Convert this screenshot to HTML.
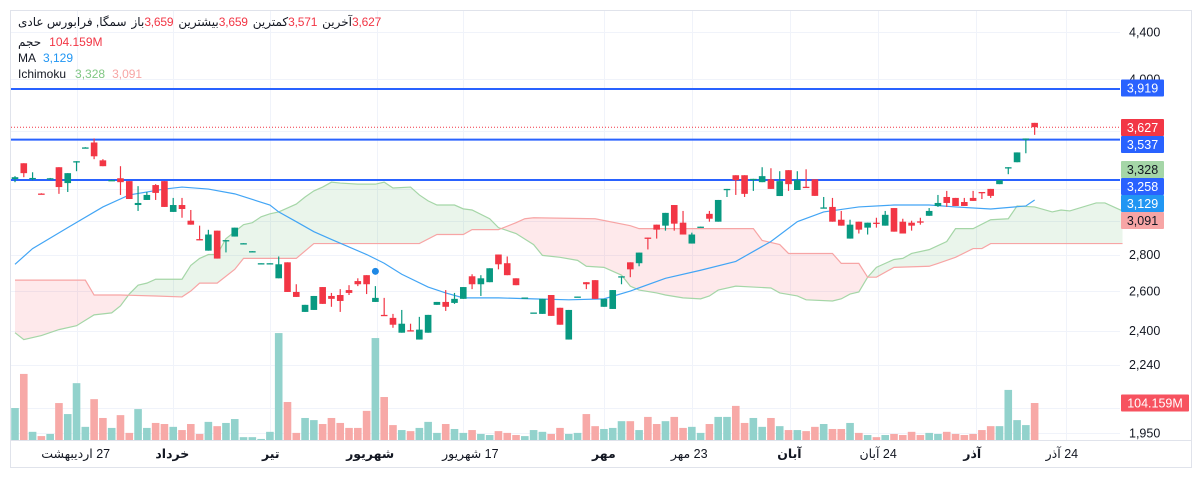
<!DOCTYPE html>
<html><head><meta charset="utf-8">
<style>
html,body{margin:0;padding:0;background:#fff;width:1203px;height:478px;overflow:hidden}
svg{display:block;font-family:"Liberation Sans","DejaVu Sans",sans-serif}
.hd{position:absolute;left:18px;font-family:"Liberation Sans","DejaVu Sans",sans-serif;font-size:12px;color:#131722;white-space:nowrap;line-height:16px;display:flex;direction:ltr}
.hd span{unicode-bidi:isolate}
.r{color:#f23645}
.g{margin-right:5px}
</style></head>
<body>
<svg id="chart" width="1203" height="478" viewBox="0 0 1203 478"></svg>
<div class="hd" style="top:14px;letter-spacing:-0.2px">
<span dir="rtl" class="g">سمگا, فرابورس عادی</span>
<span dir="rtl">باز</span>
<span dir="ltr" class="r g">3,659</span>
<span dir="rtl">بیشترین</span>
<span dir="ltr" class="r g">3,659</span>
<span dir="rtl">کمترین</span>
<span dir="ltr" class="r g">3,571</span>
<span dir="rtl">آخرین</span>
<span dir="ltr" class="r">3,627</span>
</div>
<div class="hd" style="top:34px"><span dir="rtl">حجم</span><span dir="ltr" class="r" style="margin-left:8px">104.159M</span></div>
<div class="hd" style="top:50px"><span>MA</span><span style="color:#2196f3;margin-left:7px">3,129</span></div>
<div class="hd" style="top:66px"><span>Ichimoku</span><span style="color:#81c784;margin-left:9px">3,328</span><span style="color:#f7a5a5;margin-left:7px">3,091</span></div>
<script>
const opens=[3265,3371,3270,3170,3268,3344,3238,3382,3479,3516,3391,3255,3270,3251,3097,3129,3225,3251,3054,3097,3000,2890,2823,2940,2880,2905,2864,2818,2751,2751,2669,2757,2596,2493,2503,2622,2575,2580,2606,2654,2686,2544,2478,2463,2390,2402,2357,2390,2529,2544,2539,2560,2680,2637,2648,2801,2752,2669,2565,2488,2483,2580,2514,2357,2570,2648,2659,2519,2508,2678,2757,2752,2899,2976,2970,3097,2988,2864,2962,3042,2994,3197,3290,3290,3263,3244,3263,3154,3324,3193,3214,3263,3078,3085,3006,2893,2994,2958,2988,2970,3078,2994,2988,2996,3030,3091,3148,3142,3116,3142,3180,3200,3231,3341,3378,3540,3659];
const closes=[3277,3304,3272,3168,3270,3212,3304,3385,3481,3419,3351,3258,3244,3135,3110,3161,3174,3085,3097,3072,2976,2884,2917,2778,2884,2958,2866,2820,2752,2752,2746,2596,2570,2529,2575,2534,2560,2549,2591,2637,2637,2565,2473,2429,2434,2398,2405,2478,2544,2519,2560,2622,2637,2669,2724,2746,2686,2632,2567,2490,2560,2473,2429,2503,2572,2637,2560,2560,2606,2680,2718,2812,2893,2946,3048,2982,2917,2917,2964,3012,3129,3200,3257,3168,3266,3284,3200,3251,3231,3257,3210,3155,3082,2994,2970,2976,2946,2988,2984,3036,2934,2923,2970,2992,3060,3110,3110,3091,3091,3123,3176,3155,3257,3344,3446,3545,3627];
const highs=[3284,3371,3310,3172,3272,3344,3304,3385,3483,3545,3399,3260,3351,3251,3218,3180,3231,3251,3142,3142,3066,2970,2945,2940,2884,2958,2866,2820,2752,2752,2790,2757,2637,2529,2575,2622,2591,2611,2632,2669,2686,2627,2565,2483,2503,2434,2468,2478,2544,2606,2591,2622,2691,2686,2724,2801,2790,2669,2567,2490,2560,2580,2514,2503,2572,2648,2659,2560,2606,2680,2757,2812,2899,2976,3048,3097,3060,2928,2964,3060,3129,3200,3290,3290,3266,3344,3337,3317,3324,3317,3330,3263,3148,3142,3060,3006,2994,2988,3018,3060,3078,3012,3000,3018,3078,3161,3187,3142,3142,3187,3180,3200,3257,3344,3446,3545,3659];
const lows=[3244,3277,3257,3166,3266,3168,3180,3317,3478,3399,3351,3255,3161,3135,3060,3129,3129,3085,3054,3018,2976,2884,2823,2778,2813,2905,2864,2818,2751,2751,2669,2596,2570,2493,2503,2534,2519,2493,2580,2627,2585,2544,2473,2414,2390,2398,2357,2390,2529,2498,2534,2560,2611,2575,2648,2718,2686,2632,2565,2488,2483,2473,2429,2357,2570,2611,2560,2519,2508,2637,2675,2735,2830,2893,2940,2940,2917,2864,2962,2994,2994,3148,3161,3148,3187,3244,3200,3154,3187,3193,3210,3155,3078,2994,2970,2893,2923,2917,2958,2970,2934,2923,2940,2976,3030,3085,3085,3091,3091,3123,3135,3142,3231,3297,3378,3440,3571];
const volumes=[90,186,23,11,17,104,73,160,37,115,62,34,70,20,87,34,48,45,37,28,45,17,51,39,48,59,8,8,3,23,301,107,20,62,56,45,62,48,34,34,82,287,121,42,28,25,34,51,20,45,31,20,28,17,14,25,20,14,11,28,23,17,34,17,20,73,39,31,34,53,53,28,65,45,53,65,34,37,20,45,65,65,96,48,62,37,62,39,28,28,25,37,45,31,31,48,20,14,8,14,17,14,23,14,20,17,23,17,14,17,28,39,39,141,56,42,104.159];
const maIdx=[0,2,6,10,13,17,19,22,25,29,30,32,34,36,40,42,44,47,49,51,55,59,63,67,70,74,78,82,86,89,92,96,100,104,107,111,115,116];
const maVal=[2746,2835,2958,3085,3161,3199,3212,3199,3168,3097,3054,2994,2934,2888,2801,2752,2691,2622,2591,2565,2565,2560,2555,2560,2601,2669,2713,2762,2876,2994,3054,3085,3097,3097,3085,3072,3091,3129];
const spanAIdx=[0,1,3,5,7,9,11,12,13,14,15,16,19,20,21,22,23,24,26,27,28,29,30,32,33,34,35,36,37,39,41,42,43,45,46,47,48,50,51,52,54,55,57,59,60,62,64,65,67,69,70,71,73,74,76,78,79,80,82,84,86,87,89,90,93,94,95,96,97,98,100,101,102,104,106,107,109,111,113,114,116,118,119,120,123,124,126];
const spanAVal=[2390,2357,2376,2405,2424,2478,2488,2524,2585,2632,2643,2664,2664,2740,2779,2801,2801,2893,2976,2988,3024,3042,3054,3103,3148,3187,3212,3244,3238,3231,3231,3244,3206,3212,3161,3123,3097,3097,3073,3066,3012,2958,2923,2858,2796,2785,2768,2735,2729,2686,2627,2606,2591,2580,2565,2560,2575,2606,2627,2622,2617,2591,2575,2555,2549,2560,2585,2596,2675,2729,2773,2779,2807,2829,2876,2952,2952,3006,3012,3091,3085,3054,3066,3060,3110,3110,3060];
const spanBIdx=[0,8,9,12,16,19,20,21,23,25,26,32,34,46,48,51,52,55,57,58,59,66,70,71,84,85,87,88,93,94,96,97,98,100,104,105,107,109,110,111,126];
const spanBVal=[2659,2659,2580,2580,2575,2570,2601,2643,2643,2718,2779,2779,2864,2864,2917,2917,2946,2946,2988,3012,3018,3012,2970,2952,2952,2882,2858,2807,2807,2751,2751,2675,2675,2729,2735,2751,2785,2835,2835,2864,2864];
const priceTicks=[4400,4000,2800,2600,2400,2240,1950];
const priceTickLabels=["4,400","4,000","2,800","2,600","2,400","2,240","1,950"];
const extraGrid=[3600,3200,3000,2050];
const hLines=[3919,3537,3258];
const markerIdx=41, markerPrice=2707;
const timeLabels=["27 اردیبهشت","خرداد","تیر","شهریور","17 شهریور","مهر","23 مهر","آبان","24 آبان","آذر","24 آذر"];
const timeLabelIdx=[6.9,17.9,29.1,40.4,51.8,67,76.7,88.1,98.2,108.9,119.1];
const timeLabelBold=[false,true,true,true,false,true,false,true,false,true,false];
const lastLabelText=["3,919","3,627","3,537","3,328","3,258","3,129","3,091"];
const lastLabelBg=["#2962ff","#f23645","#2962ff","#a5d6a7","#2962ff","#2196f3","#f7a5a5"];
const lastLabelFg=["#fff","#fff","#fff","#131722","#fff","#fff","#131722"];
const lastLabelY=[88,127.5,144.5,169.5,186.5,203.5,220.5]; // stacked layout positions

const NS="http://www.w3.org/2000/svg";
const svg=document.getElementById('chart');
const X=i=>15+i*8.79;
const Y=p=>32+492.7*Math.log(4400/p);
const VBASE=440, VSCALE=1/2.815;
const VY=v=>VBASE-v*VSCALE;
function mk(tag,attrs,parent){const e=document.createElementNS(NS,tag);for(const k in attrs)e.setAttribute(k,attrs[k]);(parent||svg).appendChild(e);return e;}

let e=mk('rect',{x:10.5,y:10.5,width:1181,height:457,fill:'none',stroke:'#e0e3eb'});


const vgx=[77,173,270,377,463,604,692,790,878,976,1066];
const gg=mk('g',{});


vgx.forEach(x=>mk('line',{x1:x+.5,x2:x+.5,y1:11,y2:440,stroke:'#f0f3fa'},gg));
priceTicks.concat(extraGrid).forEach(p=>mk('line',{x1:11,x2:1120,y1:Math.round(Y(p))+.5,y2:Math.round(Y(p))+.5,stroke:'#f0f3fa'},gg));
e=mk('line',{x1:11,x2:1191,y1:440.5,y2:440.5,stroke:'#e0e3eb'});



function interp(idx,val,i){for(let k=0;k<idx.length-1;k++){if(i>=idx[k]&&i<=idx[k+1]){const t=(i-idx[k])/(idx[k+1]-idx[k]||1);return val[k]+(val[k+1]-val[k])*t;}}return val[val.length-1];}
const cloud=mk('g',{});


const N=spanAIdx[spanAIdx.length-1];
const step=0.25;
let seg=null;
function flush(){if(!seg)return;const pts=seg.top.concat(seg.bot.reverse()).map(p=>p[0].toFixed(2)+','+p[1].toFixed(2)).join(' ');
  mk('polygon',{points:pts,fill:seg.up?'rgba(67,160,71,0.11)':'rgba(242,54,69,0.11)',stroke:'none'},cloud);seg=null;}
for(let i=0;i<=N+1e-9;i+=step){
  const a=interp(spanAIdx,spanAVal,i),b=interp(spanBIdx,spanBVal,i),up=a>=b;
  if(seg&&seg.up!==up){const m=(a+b)/2;seg.top.push([X(i),Y(m)]);seg.bot.push([X(i),Y(m)]);flush();seg={up,top:[[X(i),Y(m)]],bot:[[X(i),Y(m)]]};}
  if(!seg)seg={up,top:[],bot:[]};
  seg.top.push([X(i),Y(a)]);seg.bot.push([X(i),Y(b)]);
}
flush();
e=mk('polyline',{points:spanAIdx.map((i,k)=>X(i)+','+Y(spanAVal[k])).join(' '),fill:'none',stroke:'#a5d6a7','stroke-width':1.2});


e=mk('polyline',{points:spanBIdx.map((i,k)=>X(i)+','+Y(spanBVal[k])).join(' '),fill:'none',stroke:'#f7a5a5','stroke-width':1.2});



const vg=mk('g',{});


volumes.forEach((v,i)=>{const up=closes[i]>=opens[i];const r=mk('rect',{x:X(i)-3.8,y:VY(v),width:7.6,height:VBASE-VY(v),fill:up?'#92d2cc':'#f7a9a7'},vg);
  
  });

hLines.forEach(p=>{const l=mk('line',{x1:11,x2:1120,y1:Y(p),y2:Y(p),stroke:'#2962ff','stroke-width':2});
  
  });
e=mk('line',{x1:11,x2:1120,y1:Y(closes[closes.length-1]),y2:Y(closes[closes.length-1]),stroke:'#f23645','stroke-width':1,'stroke-dasharray':'1,2'});



e=mk('polyline',{points:maIdx.map((i,k)=>X(i)+','+Y(maVal[k])).join(' '),fill:'none',stroke:'#42a5f5','stroke-width':1.2});



const cg=mk('g',{});


opens.forEach((o,i)=>{
  const c=closes[i],up=c>=o,col=up?'#089981':'#f23645',x=X(i);
  const g=mk('g',{},cg);
  
  
  mk('line',{x1:x,x2:x,y1:Y(highs[i]),y2:Y(lows[i]),stroke:col,'stroke-width':1.2},g);
  const t=Y(Math.max(o,c)),b=Y(Math.min(o,c));
  mk('rect',{x:x-3.3,y:t,width:6.6,height:Math.max(1.3,b-t),fill:col},g);
});
e=mk('circle',{cx:X(markerIdx),cy:Y(markerPrice),r:3.5,fill:'#1e88e5'});



priceTicks.forEach((p,k)=>{const t=mk('text',{x:1129,y:Y(p)+4.5,'font-size':12.5,fill:'#131722'});t.textContent=priceTickLabels[k];
  
  });
lastLabelText.forEach((txt,k)=>{const y=lastLabelY[k];const g=mk('g',{});
  
  
  mk('rect',{x:1121,y:y-8.5,width:43,height:17,fill:lastLabelBg[k],rx:1},g);
  const t=mk('text',{x:1142.5,y:y+4.5,'font-size':12.5,fill:lastLabelFg[k],'text-anchor':'middle'},g);t.textContent=txt;});
{const y=VY(volumes[volumes.length-1]);const g=mk('g',{});
  
  
  mk('rect',{x:1121,y:y-8.5,width:68,height:17,fill:'#f7525f',rx:1},g);
  const t=mk('text',{x:1155,y:y+4.5,'font-size':12.5,fill:'#fff','text-anchor':'middle'},g);t.textContent='104.159M';}

timeLabels.forEach((s,k)=>{const t=mk('text',{x:X(timeLabelIdx[k]),y:458,'font-size':12.5,fill:'#131722','text-anchor':'middle',direction:'rtl','unicode-bidi':'embed','font-weight':timeLabelBold[k]?'bold':'normal'});t.textContent=s;
  
  });
</script>
</body></html>
